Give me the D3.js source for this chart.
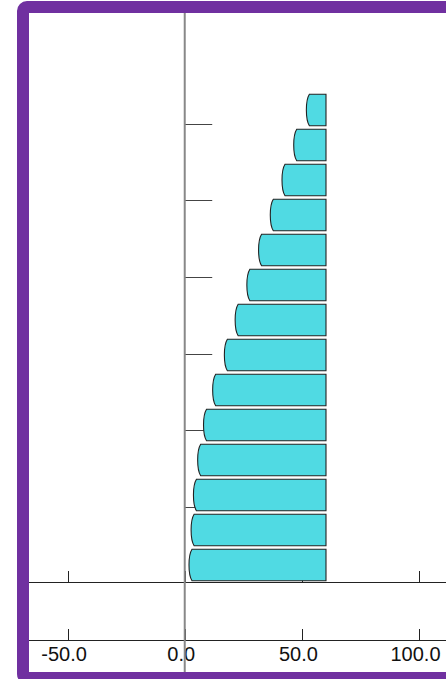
<!DOCTYPE html>
<html>
<head>
<meta charset="utf-8">
<script src="https://cdn.jsdelivr.net/npm/d3@7"></script>
<style>
  html, body { margin: 0; padding: 0; background: #fff; overflow: hidden; }
  svg { display: block; }
</style>
</head>
<body>
<svg id="chart" width="446" height="679"></svg>
<script>
// ---- data ----
const categories = ["1","2","3","4","5","6","7","8","9","10","11","12","13","14"];
const barStart = [53.2, 47.8, 42.8, 37.8, 32.8, 27.8, 22.8, 18.2, 13.2, 9.3, 6.8, 5.0, 4.0, 3.1];
const barEnd   = [60.3, 60.3, 60.3, 60.3, 60.3, 60.3, 60.3, 60.3, 60.3, 60.3, 60.3, 60.3, 60.3, 60.3];
const xTicks = [-50, 0, 50, 100];
const xTickLabels = ["-50.0", "0.0", "50.0", "100.0"];
const yTicks = [0, 1, 2, 3, 4, 5, 6];

// ---- layout ----
const W = 446, H = 679;
const svg = d3.select("#chart");
const x = d3.scaleLinear().domain([-50, 100]).range([67.6, 419]);
const yLin = d3.scaleLinear().domain([0, 6]).range([583.3, 123.7]);
const yBand = d3.scaleBand().domain(categories).range([92.5, 582.5]).paddingInner(0.1).paddingOuter(0.05);

const innerLeft = 29, innerTop = 13, innerBottom = 672;
const axis1Y = 583.3, axis2Y = 640.7;

// border
svg.append("rect")
  .attr("x", 23).attr("y", 7)
  .attr("width", 700).attr("height", 671)
  .attr("rx", 4).attr("ry", 4)
  .attr("fill", "#fff")
  .attr("stroke", "#7030A0")
  .attr("stroke-width", 12);

// y-axis tick marks (no labels)
svg.append("g")
  .selectAll("line")
  .data(yTicks.slice(1))
  .join("line")
  .attr("x1", x(0)).attr("x2", x(0) + 27.5)
  .attr("y1", d => Math.round(yLin(d)) + 0.5)
  .attr("y2", d => Math.round(yLin(d)) + 0.5)
  .attr("stroke", "#444").attr("stroke-width", 1);

// bottom axes (two rows of ticks)
[axis1Y, axis2Y].forEach(yy => {
  const g = svg.append("g");
  g.append("line")
    .attr("x1", innerLeft).attr("x2", W + 10)
    .attr("y1", Math.round(yy) - 0.5).attr("y2", Math.round(yy) - 0.5)
    .attr("stroke", "#222").attr("stroke-width", 1);
  g.selectAll("line.tick")
    .data(xTicks)
    .join("line")
    .attr("class", "tick")
    .attr("x1", d => Math.round(x(d)) + 0.5)
    .attr("x2", d => Math.round(x(d)) + 0.5)
    .attr("y1", Math.round(yy) - 12).attr("y2", Math.round(yy))
    .attr("stroke", "#222").attr("stroke-width", 1);
});

// tick labels
svg.append("g")
  .selectAll("text")
  .data(xTicks)
  .join("text")
  .attr("x", d => x(d) - 3.5)
  .attr("y", 661)
  .attr("text-anchor", "middle")
  .attr("font-family", "'Liberation Sans', Arial, sans-serif")
  .attr("font-size", 20)
  .attr("fill", "#111")
  .text((d, i) => xTickLabels[i]);

// bars with rounded left cap
const bars = categories.map((c, i) => ({ c, s: barStart[i], e: barEnd[i] }));
svg.append("g")
  .selectAll("path")
  .data(bars)
  .join("path")
  .attr("d", d => {
    const top = yBand(d.c), bot = top + yBand.bandwidth();
    const xl = x(d.s), xr = x(d.e);
    const h = bot - top;
    return `M${xr},${top} L${xl},${top} C${xl - 4},${top + h * 0.2} ${xl - 4},${bot - h * 0.2} ${xl},${bot} L${xr},${bot} Z`;
  })
  .attr("fill", "#50DAE3")
  .attr("stroke", "#222")
  .attr("stroke-width", 1.1);

// vertical zero axis
svg.append("line")
  .attr("x1", x(0)).attr("x2", x(0))
  .attr("y1", innerTop).attr("y2", innerBottom)
  .attr("stroke", "#888").attr("stroke-width", 2);
</script>
</body>
</html>
